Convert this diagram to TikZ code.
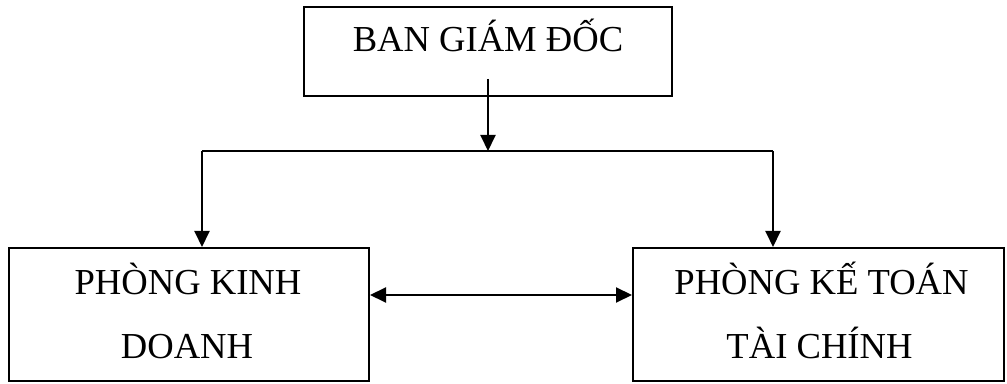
\documentclass[tikz,border=0pt]{standalone}
\usepackage{fontspec}
\setmainfont{Liberation Serif}
\usetikzlibrary{arrows.meta,calc}
\begin{document}
\begin{tikzpicture}[x=1pt,y=1pt,
  box/.style={draw=black,line width=2pt,rectangle,inner sep=0pt},
  lbl/.style={inner sep=0pt,anchor=base,font=\fontsize{36.6}{44}\selectfont},
  link/.style={line width=2pt},
  arr/.style={line width=2pt,-{Triangle[length=16pt,width=15pt]}},
  darr/.style={line width=2pt,{Triangle[length=16pt,width=15pt]}-{Triangle[length=16pt,width=15pt]}}]
  \useasboundingbox (0,0) rectangle (1007,383);

  % boxes
  \node[box,minimum width=368pt,minimum height=89pt] (bgd) at (488,331.5) {};
  \node[box,minimum width=360pt,minimum height=133pt] (pkd) at (189,68.5) {};
  \node[box,minimum width=371pt,minimum height=133pt] (pkt) at (818.5,68.5) {};

  % labels
  \node[lbl] (t1) at ($(bgd.north)+(0,-46)$) {BAN GIÁM ĐỐC};
  \node[lbl] (t2) at ($(pkd.north)+(-1,-48)$) {PHÒNG KINH};
  \node[lbl] (t3) at ($(pkd.north)+(-2,-112)$) {DOANH};
  \node[lbl] (t4) at ($(pkt.north)+(3,-48)$) {PHÒNG KẾ TOÁN};
  \node[lbl] (t5) at ($(pkt.north)+(1,-112)$) {TÀI CHÍNH};

  % connectors
  \coordinate (src) at (488,304);
  \coordinate (mid) at (488,232);
  \coordinate (jl) at (202,232);
  \coordinate (jr) at (773,232);
  \coordinate (h) at (0,88);
  \draw[arr] (src) -- (mid);
  \draw[link] (jl) -- (jr);
  \draw[arr] (jl) -- (jl |- pkd.north);
  \draw[arr] (jr) -- (jr |- pkt.north);
  \draw[darr] (pkd.east |- h) -- (pkt.west |- h);
\end{tikzpicture}
\end{document}
